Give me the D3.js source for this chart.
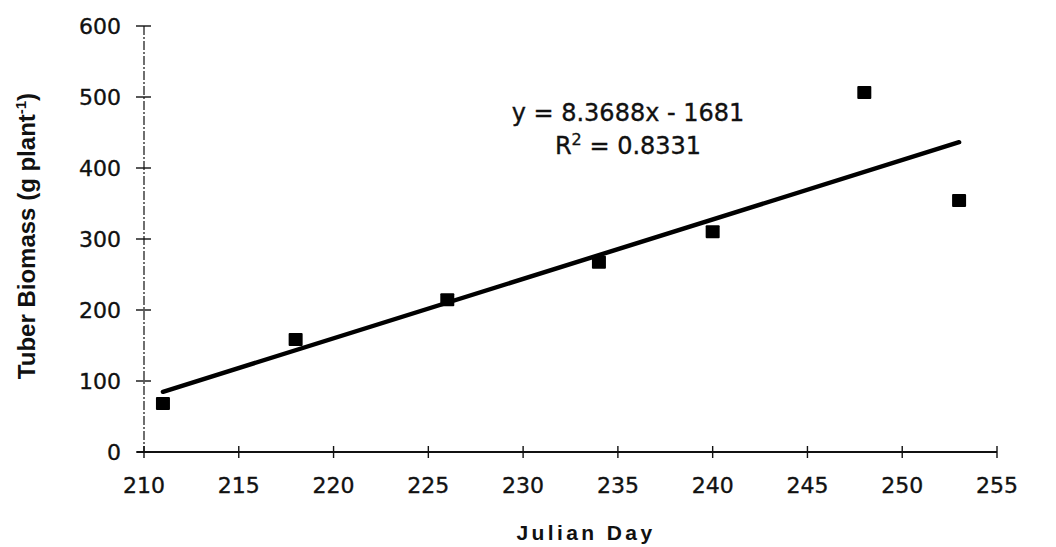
<!DOCTYPE html>
<html>
<head>
<meta charset="utf-8">
<script src="https://cdn.jsdelivr.net/npm/d3@7"></script>
<style>
  html, body { margin: 0; padding: 0; background: #fff; }
  svg { display: block; font-family: "DejaVu Sans", "Liberation Sans", Arial, sans-serif; }
  .lbl { fill: #111; stroke: #111; stroke-width: 0.35px; }
</style>
</head>
<body>
<svg id="chart" width="1056" height="547"></svg>
<script>
// Tuber biomass sampled on Julian days
const julianDays = [211, 218, 226, 234, 240, 248, 253];
const biomass = [69, 159, 215, 268, 311, 507, 355];

// Fitted linear trend
const slope = 8.3688;
const intercept = -1681;
const rSquared = 0.8331;

// Axis ticks
const xTicks = [210, 215, 220, 225, 230, 235, 240, 245, 250, 255];
const yTicks = [0, 100, 200, 300, 400, 500, 600];

const svg = d3.select("#chart");
const plot = { left: 144, right: 997, top: 26, bottom: 452 };

const x = d3.scaleLinear().domain([210, 255]).range([plot.left, plot.right]);
const y = d3.scaleLinear().domain([0, 600]).range([plot.bottom, plot.top]);

// Y axis line
svg.append("line")
  .attr("x1", plot.left).attr("x2", plot.left)
  .attr("y1", y(600)).attr("y2", y(0))
  .attr("stroke", "#222").attr("stroke-width", 1.3)
  .attr("stroke-dasharray", "9,2,2,2");

// X axis line
svg.append("line")
  .attr("x1", plot.left - 7).attr("x2", plot.right)
  .attr("y1", y(0)).attr("y2", y(0))
  .attr("stroke", "#111").attr("stroke-width", 2);

// Y ticks and labels
const yt = svg.append("g").selectAll("g").data(yTicks).join("g")
  .attr("transform", d => `translate(0,${y(d)})`);
yt.append("line").attr("x1", plot.left - 8).attr("x2", plot.left + 7)
  .attr("stroke", "#111").attr("stroke-width", 1.4);
yt.append("text").attr("class", "lbl")
  .attr("x", 121).attr("dy", "0.36em")
  .attr("text-anchor", "end")
  .attr("font-size", 22)
  .text(d => d);

// X ticks and labels
const xt = svg.append("g").selectAll("g").data(xTicks).join("g")
  .attr("transform", d => `translate(${x(d)},0)`);
xt.append("line").attr("y1", y(0) - 6).attr("y2", y(0) + 6)
  .attr("stroke", "#111").attr("stroke-width", 1.4);
xt.append("text").attr("class", "lbl")
  .attr("y", 493).attr("text-anchor", "middle")
  .attr("font-size", 22)
  .text(d => d);

// Axis titles
svg.append("text")
  .attr("x", 586).attr("y", 540)
  .attr("text-anchor", "middle")
  .attr("font-family", "'Liberation Sans', Arial, sans-serif")
  .attr("font-size", 21).attr("font-weight", "bold")
  .attr("letter-spacing", 3.4).attr("fill", "#111")
  .text("Julian Day");

const yTitle = svg.append("text")
  .attr("transform", "translate(35,236) rotate(-90)")
  .attr("text-anchor", "middle")
  .attr("font-family", "'Liberation Sans', Arial, sans-serif")
  .attr("font-size", 24).attr("font-weight", "bold")
  .attr("fill", "#111");
yTitle.append("tspan").text("Tuber Biomass (g plant");
yTitle.append("tspan").attr("dy", -9).attr("font-size", 15).text("-1");
yTitle.append("tspan").attr("dy", 9).text(")");

// Regression line
const xFit = d3.extent(julianDays);
svg.append("line")
  .attr("x1", x(xFit[0])).attr("y1", y(slope * xFit[0] + intercept))
  .attr("x2", x(xFit[1])).attr("y2", y(slope * xFit[1] + intercept))
  .attr("stroke", "#000").attr("stroke-width", 4.5)
  .attr("stroke-linecap", "round");

// Data markers
const pts = julianDays.map((d, i) => ({ d, v: biomass[i] }));
svg.append("g").selectAll("rect").data(pts).join("rect")
  .attr("x", p => x(p.d) - 7).attr("y", p => y(p.v) - 6)
  .attr("width", 14).attr("height", 13)
  .attr("rx", 1)
  .attr("fill", "#000");

// Equation annotation
svg.append("text").attr("class", "lbl")
  .attr("x", 628).attr("y", 121)
  .attr("text-anchor", "middle")
  .attr("font-size", 24)
  .text(`y = ${slope}x - ${Math.abs(intercept)}`);
const r2 = svg.append("text").attr("class", "lbl")
  .attr("x", 628).attr("y", 154)
  .attr("text-anchor", "middle")
  .attr("font-size", 24);
r2.append("tspan").text("R");
r2.append("tspan").attr("dy", -9).attr("font-size", 16).text("2");
r2.append("tspan").attr("dy", 9).text(` = ${rSquared}`);
</script>
</body>
</html>
